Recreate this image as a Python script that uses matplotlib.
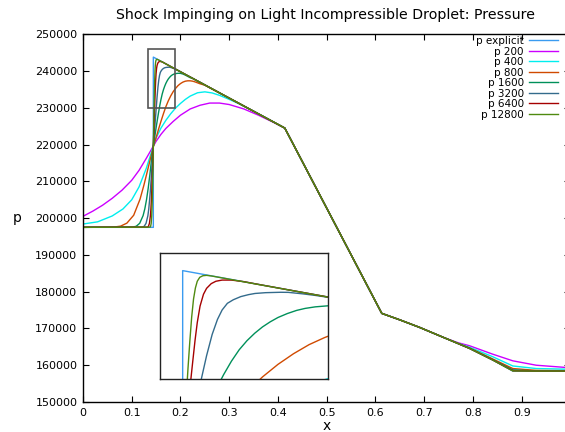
import matplotlib
matplotlib.use("Agg")
import matplotlib.pyplot as plt
from matplotlib.patches import Rectangle

TITLE = "Shock Impinging on Light Incompressible Droplet: Pressure"

# shared path (all series coincide here)
MID_X = [0.414, 0.613, 0.6496, 0.6906, 0.7418]
MID_Y = [224500, 174100, 172360, 170290, 167440]

# explicit
EXP_HEAD_X = [0.0, 0.1443, 0.1443]
EXP_HEAD_Y = [197500, 197500, 243800]
EXP_TAIL_X = [0.793, 0.8408, 0.8818, 1.0]
EXP_TAIL_Y = [164580, 161410, 158420, 158420]

# p 200
P200_HEAD_X = [0.0, 0.02, 0.04, 0.06, 0.08, 0.10, 0.115, 0.13, 0.1443, 0.15, 0.16, 0.17,
               0.185, 0.20, 0.22, 0.24, 0.26, 0.28, 0.30, 0.33, 0.36, 0.39]
P200_HEAD_Y = [200500, 201900, 203500, 205400, 207600, 210300, 213000, 216300, 219600,
               220900, 222800, 224400, 226300, 228000, 229700, 230700, 231300, 231300,
               230900, 229700, 228000, 226100]
P200_TAIL_X = [0.77, 0.793, 0.8408, 0.8818, 0.93, 1.0]
P200_TAIL_Y = [166100, 165300, 163000, 161200, 160000, 159300]

# p 400
P400_HEAD_X = [0.0, 0.03, 0.06, 0.082, 0.10, 0.115, 0.13, 0.1443, 0.15, 0.16, 0.17, 0.18,
               0.19, 0.20, 0.21, 0.22, 0.235, 0.25, 0.265, 0.28, 0.30, 0.32, 0.34, 0.36]
P400_HEAD_Y = [198400, 199000, 200600, 202500, 205000, 208500, 213600, 219600, 221800,
               224500, 226600, 228400, 229950, 231200, 232300, 233200, 234100, 234350,
               234050, 233400, 232300, 231100, 229750, 228380]
P400_TAIL_X = [0.77, 0.793, 0.8408, 0.8818, 0.93, 1.0]
P400_TAIL_Y = [165950, 164900, 162300, 159800, 159100, 158900]

# p 800
P800_HEAD_X = [0.0, 0.063, 0.077, 0.09, 0.104, 0.117, 0.125, 0.131, 0.138, 0.1443, 0.15,
               0.155, 0.16, 0.165, 0.17, 0.175, 0.18, 0.185, 0.19, 0.195, 0.20, 0.205,
               0.21, 0.215, 0.22, 0.225, 0.23, 0.235, 0.24, 0.245, 0.25]
P800_HEAD_Y = [197500, 197570, 197820, 198640, 200790, 205150, 209000, 212200, 216000,
               219400, 221900, 224200, 226350, 228400, 230300, 231900, 233250, 234400,
               235300, 236050, 236600, 237000, 237250, 237350, 237350, 237250, 237050,
               236800, 236550, 236350, 236150]
P800_TAIL_X = [0.793, 0.8408, 0.8818, 0.93, 1.0]
P800_TAIL_Y = [164700, 161700, 159100, 158600, 158500]

# p 1600
P1600_HEAD_X = [0.0, 0.1023, 0.1093, 0.1163, 0.1233, 0.1268, 0.1303, 0.1338, 0.1373,
                0.1408, 0.1443, 0.1475, 0.15, 0.1525, 0.155, 0.1575, 0.16, 0.1625, 0.165,
                0.1675, 0.17, 0.1725, 0.175, 0.178, 0.181, 0.1837, 0.187, 0.191, 0.195,
                0.20, 0.205, 0.21, 0.215, 0.22, 0.225]
P1600_HEAD_Y = [197500, 197570, 197800, 198600, 200690, 202520, 205010, 208160, 211940,
                216180, 219600, 222400, 224600, 226700, 228700, 230600, 232300, 233750,
                234900, 235850, 236650, 237300, 237850, 238350, 238750, 239000, 239200,
                239330, 239400, 239380, 239200, 238900, 238550, 238200, 238000]
P1600_TAIL_X = [0.793, 0.8408, 0.8818, 0.93, 1.0]
P1600_TAIL_Y = [164600, 161500, 158750, 158450, 158450]

# p 3200
P3200_HEAD_X = [0.0, 0.1218, 0.1256, 0.1293, 0.1331, 0.1349, 0.1368, 0.1387, 0.1406,
                0.1424, 0.1443, 0.146, 0.148, 0.15, 0.152, 0.1538, 0.1555, 0.157, 0.1587,
                0.1606, 0.163, 0.1655, 0.1676, 0.171, 0.1758, 0.1783, 0.183, 0.187,
                0.191, 0.20]
P3200_HEAD_Y = [197500, 197560, 197800, 198580, 200650, 202460, 205200, 208300, 212300,
                216000, 219600, 222500, 226000, 229500, 233000, 235700, 237600, 238800,
                239650, 240100, 240500, 240750, 240900, 241000, 241050, 241040, 240850,
                240650, 240420, 239810]
P3200_TAIL_X = [0.793, 0.8408, 0.8818, 0.93, 1.0]
P3200_TAIL_Y = [164580, 161450, 158600, 158420, 158420]

# p 6400
P6400_HEAD_X = [0.0, 0.1323, 0.1343, 0.1363, 0.1383, 0.1393, 0.1403, 0.1413, 0.1423,
                0.1433, 0.1443, 0.1452, 0.146, 0.1468, 0.1475, 0.1483, 0.149, 0.1499,
                0.151, 0.152, 0.1535, 0.155, 0.157, 0.16, 0.164, 0.168]
P6400_HEAD_Y = [197500, 197560, 197800, 198580, 200650, 202460, 204900, 208050, 211850,
                215800, 219600, 223200, 226400, 229500, 232100, 235000, 237200, 239300,
                240800, 241550, 242150, 242450, 242600, 242600, 242400, 242100]
P6400_TAIL_X = [0.793, 0.8408, 0.8818, 0.93, 1.0]
P6400_TAIL_Y = [164580, 161420, 158500, 158420, 158420]

# p 12800
P12800_HEAD_X = [0.0, 0.1377, 0.1388, 0.1399, 0.141, 0.1415, 0.1421, 0.1427, 0.1432,
                 0.1438, 0.1443, 0.1449, 0.1455, 0.146, 0.1466, 0.1472, 0.1478, 0.1484,
                 0.149, 0.1498, 0.1508, 0.152, 0.1536]
P12800_HEAD_Y = [197500, 197560, 197800, 198580, 200650, 202460, 204900, 208050, 211850,
                 216100, 219800, 223800, 228000, 231300, 234800, 237900, 240200, 241600,
                 242450, 242950, 243150, 243200, 243120]
P12800_TAIL_X = [0.793, 0.8408, 0.8818, 0.93, 1.0]
P12800_TAIL_Y = [164580, 161410, 158450, 158420, 158420]

LABELS = ["p explicit", "p 200", "p 400", "p 800", "p 1600", "p 3200", "p 6400", "p 12800"]
COLORS = ["#3a9bf0", "#cc00ff", "#00eeee", "#d04a00", "#00905a", "#336b8c", "#a50000", "#4f8a10"]

X_TICKS = [0, 0.1, 0.2, 0.3, 0.4, 0.5, 0.6, 0.7, 0.8, 0.9]
X_TICK_LABELS = ["0", "0.1", "0.2", "0.3", "0.4", "0.5", "0.6", "0.7", "0.8", "0.9"]
Y_TICKS = [150000, 160000, 170000, 180000, 190000, 200000, 210000, 220000, 230000, 240000, 250000]
Y_TICK_LABELS = [str(v) for v in Y_TICKS]

INSET_XLIM = (0.137, 0.191)
INSET_YLIM = (230000, 246000)
BOX_X = (0.1334, 0.189)
BOX_Y = (230000, 246000)

heads = [(EXP_HEAD_X, EXP_HEAD_Y, EXP_TAIL_X, EXP_TAIL_Y),
         (P200_HEAD_X, P200_HEAD_Y, P200_TAIL_X, P200_TAIL_Y),
         (P400_HEAD_X, P400_HEAD_Y, P400_TAIL_X, P400_TAIL_Y),
         (P800_HEAD_X, P800_HEAD_Y, P800_TAIL_X, P800_TAIL_Y),
         (P1600_HEAD_X, P1600_HEAD_Y, P1600_TAIL_X, P1600_TAIL_Y),
         (P3200_HEAD_X, P3200_HEAD_Y, P3200_TAIL_X, P3200_TAIL_Y),
         (P6400_HEAD_X, P6400_HEAD_Y, P6400_TAIL_X, P6400_TAIL_Y),
         (P12800_HEAD_X, P12800_HEAD_Y, P12800_TAIL_X, P12800_TAIL_Y)]

series = []
for hx, hy, tx, ty in heads:
    series.append((hx + MID_X + tx, hy + MID_Y + ty))

W, H = 565, 432
fig = plt.figure(figsize=(W / 100, H / 100), dpi=100)
ax = fig.add_axes([83 / W, 1 - 402 / H, 487.4 / W, (402 - 34.3) / H])

for (xs, ys), lab, col in zip(series, LABELS, COLORS):
    ax.plot(xs, ys, color=col, lw=1.0, label=lab)

ax.set_xlim(0, 1.0)
ax.set_ylim(150000, 250000)
ax.set_xticks(X_TICKS)
ax.set_xticklabels(X_TICK_LABELS)
ax.set_yticks(Y_TICKS)
ax.set_yticklabels(Y_TICK_LABELS)
ax.tick_params(direction="in", length=4, width=0.8, labelsize=8, top=True, right=True,
               pad=4)
for sp in ax.spines.values():
    sp.set_linewidth(1.0)
ax.set_xlabel("x", fontsize=10, labelpad=1)
ax.set_ylabel("p", fontsize=10, rotation=0, labelpad=0, va="center", ha="center")
ax.yaxis.set_label_coords(-0.135, 0.5)
fig.text(326 / W, 1 - 15 / H, TITLE, ha="center", va="center", fontsize=10.2)

ax.add_patch(Rectangle((BOX_X[0], BOX_Y[0]), BOX_X[1] - BOX_X[0], BOX_Y[1] - BOX_Y[0],
                       fill=False, ec="#555555", lw=1.2, zorder=5))

leg = ax.legend(loc="upper right", bbox_to_anchor=(558 / W, 1 - 36 / H),
                bbox_transform=fig.transFigure, frameon=False, fontsize=7.5,
                markerfirst=False, handlelength=2.8, handletextpad=0.5,
                labelspacing=0.05, borderpad=0, borderaxespad=0)
for t in leg.get_texts():
    t.set_ha("right")

axin = fig.add_axes([160 / W, 1 - 379.3 / H, 167.7 / W, 126 / H])
for (xs, ys), col in zip(series, COLORS):
    axin.plot(xs, ys, color=col, lw=1.0)
axin.set_xlim(*INSET_XLIM)
axin.set_ylim(*INSET_YLIM)
axin.set_xticks([])
axin.set_yticks([])
for sp in axin.spines.values():
    sp.set_linewidth(1.0)
    sp.set_color("#222222")

fig.savefig("out.png", dpi=100)
